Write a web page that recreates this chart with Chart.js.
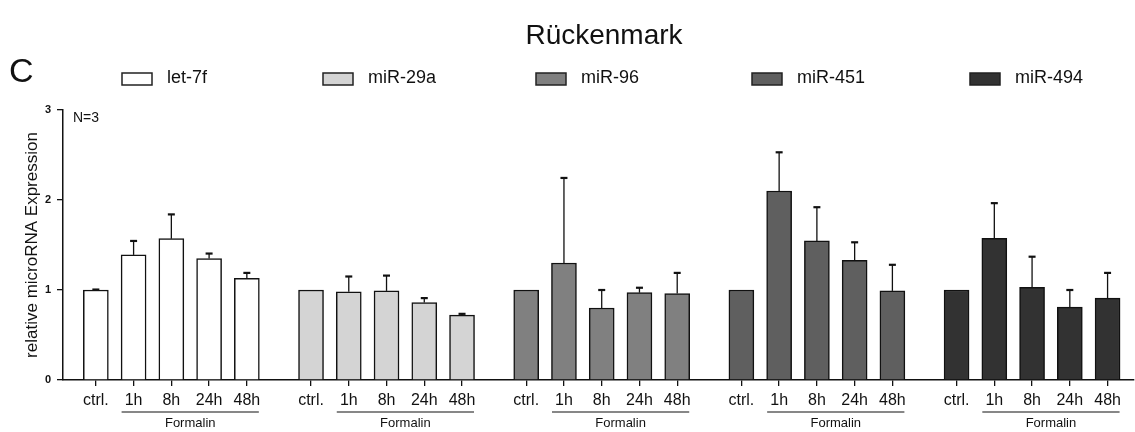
<!DOCTYPE html>
<html>
<head>
<meta charset="utf-8">
<script src="https://cdn.jsdelivr.net/npm/chart.js@4.4.1/dist/chart.umd.min.js"></script>
<style>
  html, body { margin: 0; padding: 0; background: #fff; }
</style>
</head>
<body>
<canvas id="chart" width="1135" height="432"></canvas>
<script>
// miRNA names and time points
const mirnas = ['let-7f', 'miR-29a', 'miR-96', 'miR-451', 'miR-494'];
const timepoints = ['ctrl.', '1h', '8h', '24h', '48h'];

// mean relative expression per time point
const let7f  = [1.00, 1.39, 1.57, 1.35, 1.13];
const mir29a = [1.00, 0.98, 0.99, 0.86, 0.72];
const mir96  = [1.00, 1.30, 0.80, 0.97, 0.96];
const mir451 = [1.00, 2.10, 1.545, 1.33, 0.99];
const mir494 = [1.00, 1.575, 1.03, 0.81, 0.91];

// upper error (SEM)
const let7fErr  = [0.005, 0.155, 0.27, 0.055, 0.06];
const mir29aErr = [0.00, 0.17, 0.17, 0.05, 0.015];
const mir96Err  = [0.00, 0.945, 0.20, 0.055, 0.23];
const mir451Err = [0.00, 0.43, 0.375, 0.20, 0.29];
const mir494Err = [0.00, 0.39, 0.34, 0.19, 0.28];

const yTicks = [0, 1, 2, 3];

const means = [let7f, mir29a, mir96, mir451, mir494];
const errs = [let7fErr, mir29aErr, mir96Err, mir451Err, mir494Err];
const fills = ['#ffffff', '#d4d4d4', '#808080', '#5f5f5f', '#323232'];

const FONT = '"Liberation Sans", Arial, sans-serif';
const groupStep = 5.7;
const tickPos = [];
mirnas.forEach((m, g) => timepoints.forEach((t, i) => tickPos.push(g * groupStep + i)));

const datasets = mirnas.map((name, g) => ({
  label: name,
  data: means[g].map((v, i) => ({ x: g * groupStep + i, y: v })),
  backgroundColor: fills[g],
  borderColor: '#111',
  borderWidth: 1.5,
  borderSkipped: 'bottom',
  barThickness: 25,
  grouped: false
}));

// up-only error bars
const errorBars = {
  id: 'errorBars',
  afterDatasetsDraw(chart) {
    const c = chart.ctx;
    const ys = chart.scales.y;
    c.save();
    c.strokeStyle = '#111';
    chart.data.datasets.forEach((ds, g) => {
      chart.getDatasetMeta(g).data.forEach((bar, i) => {
        const e = errs[g][i];
        if (!e) return;
        const top = ys.getPixelForValue(means[g][i] + e);
        c.lineWidth = 1.3;
        c.beginPath();
        c.moveTo(bar.x, bar.y);
        c.lineTo(bar.x, top);
        c.stroke();
        c.lineWidth = 2.2;
        c.beginPath();
        c.moveTo(bar.x - 3.5, top);
        c.lineTo(bar.x + 3.5, top);
        c.stroke();
      });
    });
    c.restore();
  }
};

// title, panel letter, legend, N label, "Formalin" brackets
const decorations = {
  id: 'decorations',
  afterDraw(chart) {
    const c = chart.ctx;
    const xs = chart.scales.x;
    const area = chart.chartArea;
    c.save();
    c.fillStyle = '#111';
    c.textBaseline = 'alphabetic';
    c.textAlign = 'center';
    c.font = '28px ' + FONT;
    c.fillText('Rückenmark', 604, 44);

    c.textAlign = 'left';
    c.font = '34px ' + FONT;
    c.fillText('C', 9, 82);

    const boxX = [122, 323, 536, 752, 970];
    mirnas.forEach((name, g) => {
      c.fillStyle = fills[g];
      c.fillRect(boxX[g], 73, 30, 12);
      c.strokeStyle = '#222';
      c.lineWidth = 1.5;
      c.strokeRect(boxX[g], 73, 30, 12);
      c.fillStyle = '#111';
      c.font = '18px ' + FONT;
      c.fillText(name, boxX[g] + 45, 83);
    });

    c.font = '14px ' + FONT;
    c.textBaseline = 'middle';
    c.fillText('N=3', area.left + 10, area.top + 8);

    c.strokeStyle = '#111';
    c.lineWidth = 1.2;
    c.font = '13px ' + FONT;
    c.textAlign = 'center';
    mirnas.forEach((name, g) => {
      const x0 = xs.getPixelForValue(g * groupStep + 1) - 12;
      const x1 = xs.getPixelForValue(g * groupStep + 4) + 12;
      c.beginPath();
      c.moveTo(x0, area.bottom + 32);
      c.lineTo(x1, area.bottom + 32);
      c.stroke();
      c.fillText('Formalin', (x0 + x1) / 2, area.bottom + 43);
    });
    c.restore();
  }
};

new Chart(document.getElementById('chart').getContext('2d'), {
  type: 'bar',
  data: { datasets },
  options: {
    responsive: false,
    animation: false,
    layout: { padding: { left: 0, right: 1, top: 110, bottom: 0 } },
    plugins: {
      legend: { display: false },
      tooltip: { enabled: false },
      title: { display: false }
    },
    scales: {
      x: {
        type: 'linear',
        min: -0.87,
        max: 27.5,
        offset: false,
        border: { color: '#111', width: 1.5 },
        grid: { offset: false, drawOnChartArea: false, tickLength: 6, color: '#111', lineWidth: 1.3 },
        afterBuildTicks: s => { s.ticks = tickPos.map(v => ({ value: v })); },
        afterFit: s => { s.height = 52; },
        ticks: {
          autoSkip: false,
          maxRotation: 0,
          padding: 5,
          color: '#111',
          font: { family: FONT, size: 16 },
          callback: (v, i) => timepoints[i % timepoints.length]
        }
      },
      y: {
        min: 0,
        max: 3,
        border: { color: '#111', width: 1.5 },
        grid: { drawOnChartArea: false, tickLength: 6, color: '#111', lineWidth: 1.3 },
        afterBuildTicks: s => { s.ticks = yTicks.map(v => ({ value: v })); },
        afterFit: s => { s.width = 63; },
        ticks: {
          padding: 6,
          color: '#111',
          font: { family: FONT, size: 11, weight: 'bold' }
        },
        title: {
          display: true,
          text: 'relative microRNA Expression',
          color: '#111',
          font: { family: FONT, size: 17 },
          padding: { top: 22 }
        }
      }
    }
  },
  plugins: [errorBars, decorations]
});
</script>
</body>
</html>
